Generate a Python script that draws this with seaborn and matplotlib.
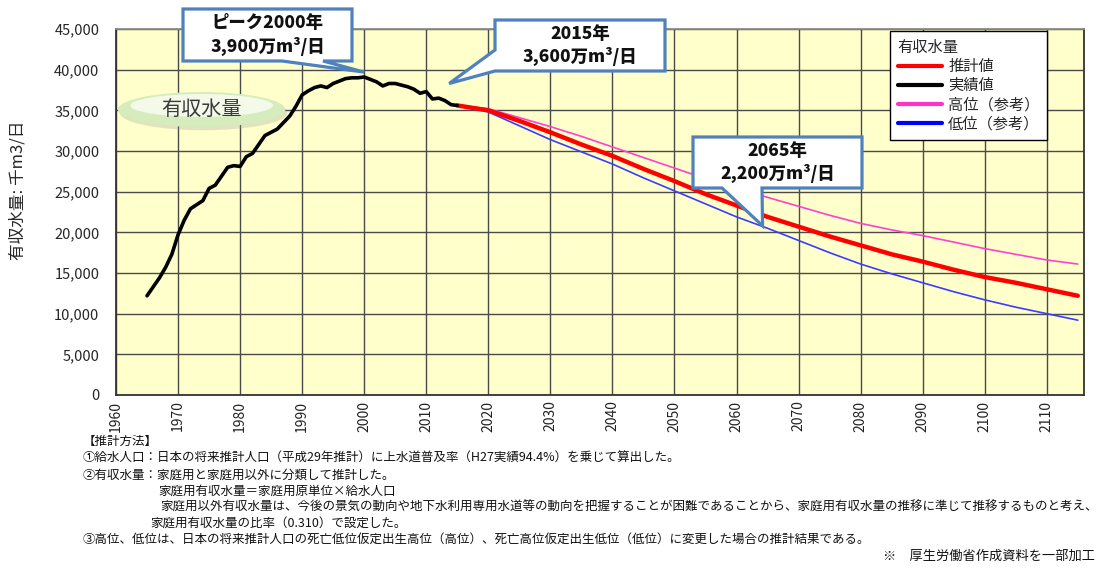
import numpy as np
import pandas as pd
import matplotlib
matplotlib.use("Agg")
import matplotlib.pyplot as plt
import seaborn as sns
from matplotlib.lines import Line2D
from matplotlib.patches import Polygon, Ellipse

# estilo
sns.set_style("white")
plt.rcParams['font.family'] = ['Noto Sans CJK JP', 'DejaVu Sans']

# 実績値 (千m3/日), 1965-2015
anos_real = list(range(1965, 2016))
jisseki = [12200, 13300, 14400, 15700, 17300, 19700, 21500, 22900, 23400, 23900,
           25400, 25800, 26900, 28000, 28200, 28100, 29300, 29700, 30800, 31900,
           32300, 32700, 33500, 34300, 35500, 36900, 37400, 37800, 38000, 37800,
           38300, 38600, 38900, 39000, 39000, 39100, 38800, 38500, 38000, 38300,
           38300, 38100, 37900, 37600, 37100, 37300, 36400, 36500, 36200, 35700,
           35600]

# 推計 (5年ごと), 2015-2115
anos_proj = list(range(2015, 2116, 5))
suikei = [35600, 35000, 33700, 32300, 30800, 29400, 27800, 26300, 24700, 23300,
          21900, 20700, 19500, 18400, 17300, 16400, 15400, 14500, 13800, 13000, 12200]
koui = [35600, 35200, 34100, 33000, 31800, 30500, 29200, 27900, 26600, 25400,
        24300, 23200, 22100, 21100, 20300, 19600, 18800, 18000, 17300, 16600, 16100]
teii = [35600, 34800, 33100, 31400, 29900, 28400, 26700, 25100, 23500, 21900,
        20500, 19000, 17500, 16100, 14900, 13800, 12700, 11700, 10800, 10000, 9200]

anos_rotulo = list(range(1960, 2111, 10))
y_ticks = list(range(0, 45001, 5000))

series_nomes = ["推計値", "実績値", "高位（参考）", "低位（参考）"]
cores = {"推計値": "#FF0000", "実績値": "#000000", "高位（参考）": "#FF33CC", "低位（参考）": "#0000FF"}

df_real = pd.DataFrame({"年": anos_real, "有収水量": jisseki})
df_proj = pd.DataFrame({"年": anos_proj, "推計値": suikei, "高位": koui, "低位": teii})

W, H = 1100, 570
fig = plt.figure(figsize=(W / 100, H / 100), dpi=100)
ax = fig.add_axes([116 / W, 1 - 395 / H, (1084 - 116) / W, (395 - 29) / H])
ax.set_facecolor("#FFFFCC")

sns.lineplot(data=df_proj, x="年", y="高位", color="#FF40D0", linewidth=1.2, ax=ax, zorder=3)
sns.lineplot(data=df_proj, x="年", y="低位", color="#3C3CFF", linewidth=1.2, ax=ax, zorder=3)
sns.lineplot(data=df_proj, x="年", y="推計値", color="#FF0000", linewidth=3.2, ax=ax, zorder=4)
sns.lineplot(data=df_real, x="年", y="有収水量", color="#000000", linewidth=2.6, ax=ax, zorder=5)

ax.set_xlim(1960, 2116)
ax.set_ylim(0, 45000)
ax.set_xticks(anos_rotulo)
ax.set_xticklabels([str(a) for a in anos_rotulo], rotation=90, fontsize=10, color="#222222")
ax.set_yticks(y_ticks)
ax.set_yticklabels([f"{v:,}" for v in y_ticks], fontsize=10.5, color="#262626")
ax.tick_params(axis="both", length=0)
ax.tick_params(axis="y", pad=12)
ax.tick_params(axis="x", pad=4)
ax.set_xlabel("")
ax.set_ylabel("")
ax.grid(True, color="#4a4a4a", linewidth=1.0)
ax.set_axisbelow(True)
for lado, sp in ax.spines.items():
    sp.set_color("#333333")
    sp.set_linewidth(1.3)
ax.spines["top"].set_color("#8a8a8a")

fig.text(18 / W, 1 - 190 / H, "有収水量: 千m3/日", rotation=90, ha="center", va="center",
         fontsize=12, color="#262626")

# legenda
handles = [Line2D([], [], color=cores[n], linewidth=3) for n in series_nomes]
leg = ax.legend(handles, series_nomes, title="有収水量", loc="upper left",
                bbox_to_anchor=((890 - 116) / 968, (395 - 31) / 366), borderaxespad=0,
                fontsize=11, title_fontsize=11, frameon=True, fancybox=False,
                framealpha=1, edgecolor="#000000", handlelength=2.9, handletextpad=0.4,
                labelspacing=0.15, borderpad=0.5)
leg._legend_box.align = "left"
leg.get_frame().set_linewidth(1.0)
leg.set_zorder(10)

# elipse "有収水量"
ax.add_patch(Ellipse((1974.1, 34700), 27, 4300, facecolor="#a0a0a0", alpha=0.3,
                     edgecolor="none", zorder=6))
ax.add_patch(Ellipse((1973.8, 35100), 27, 4300, facecolor="#D6ECBC", edgecolor="none", zorder=6))
ax.add_patch(Ellipse((1973.8, 35600), 23, 2800, facecolor="#F3FAEA", edgecolor="none", zorder=6))
ax.text(1973.8, 35100, "有収水量", ha="center", va="center", fontsize=14.5,
        color="#3a3a3a", zorder=7)


# balões
def fukidashi(texto, caixa, base, ponta):
    x0, y0, x1, y1 = caixa
    tx, ty = ax.transData.transform(ponta)
    top, bot = H - y0, H - y1
    lado, a, b = base
    if lado == "bottom":
        pts = [(x0, top), (x1, top), (x1, bot), (b, bot), (tx, ty), (a, bot), (x0, bot)]
    else:
        pts = [(x0, top), (x1, top), (x1, bot), (x0, bot), (x0, H - b), (tx, ty), (x0, H - a)]
    pts_fig = fig.transFigure.inverted().transform(pts)
    fig.add_artist(Polygon(pts_fig, closed=True, transform=fig.transFigure, facecolor="white",
                           edgecolor="#4F81BD", linewidth=2.3, joinstyle="miter", zorder=20))
    fig.text((x0 + x1) / 2 / W, 1 - (y0 + y1) / 2 / H, texto, ha="center", va="center",
             fontsize=12.5, fontweight="heavy", color="#111111", linespacing=1.3, zorder=21)


fukidashi("ピーク2000年\n3,900万m³/日", (183, 9, 352, 61), ("bottom", 282, 323), (2000, 39700))
fukidashi("2015年\n3,600万m³/日", (495, 20, 665, 71), ("left", 50, 71), (2013.7, 38300))
fukidashi("2065年\n2,200万m³/日", (693, 137, 862, 188), ("bottom", 722, 762), (2064.2, 20800))

# notas
notas = [
    (83, 441, "【推計方法】"),
    (83, 458, "①給水人口：日本の将来推計人口（平成29年推計）に上水道普及率（H27実績94.4%）を乗じて算出した。"),
    (83, 475, "②有収水量：家庭用と家庭用以外に分類して推計した。"),
    (158, 491, "家庭用有収水量＝家庭用原単位×給水人口"),
    (160, 507, "家庭用以外有収水量は、今後の景気の動向や地下水利用専用水道等の動向を把握することが困難であることから、家庭用有収水量の推移に準じて推移するものと考え、"),
    (150, 523, "家庭用有収水量の比率（0.310）で設定した。"),
    (83, 539, "③高位、低位は、日本の将来推計人口の死亡低位仮定出生高位（高位）、死亡高位仮定出生低位（低位）に変更した場合の推計結果である。"),
]
for x, y, t in notas:
    fig.text(x / W, 1 - y / H, t, ha="left", va="center", fontsize=9, color="#111111")
fig.text(1095 / W, 1 - 556 / H, "※　厚生労働省作成資料を一部加工", ha="right", va="center",
         fontsize=9.5, color="#111111")

fig.savefig("out.png", dpi=100)
